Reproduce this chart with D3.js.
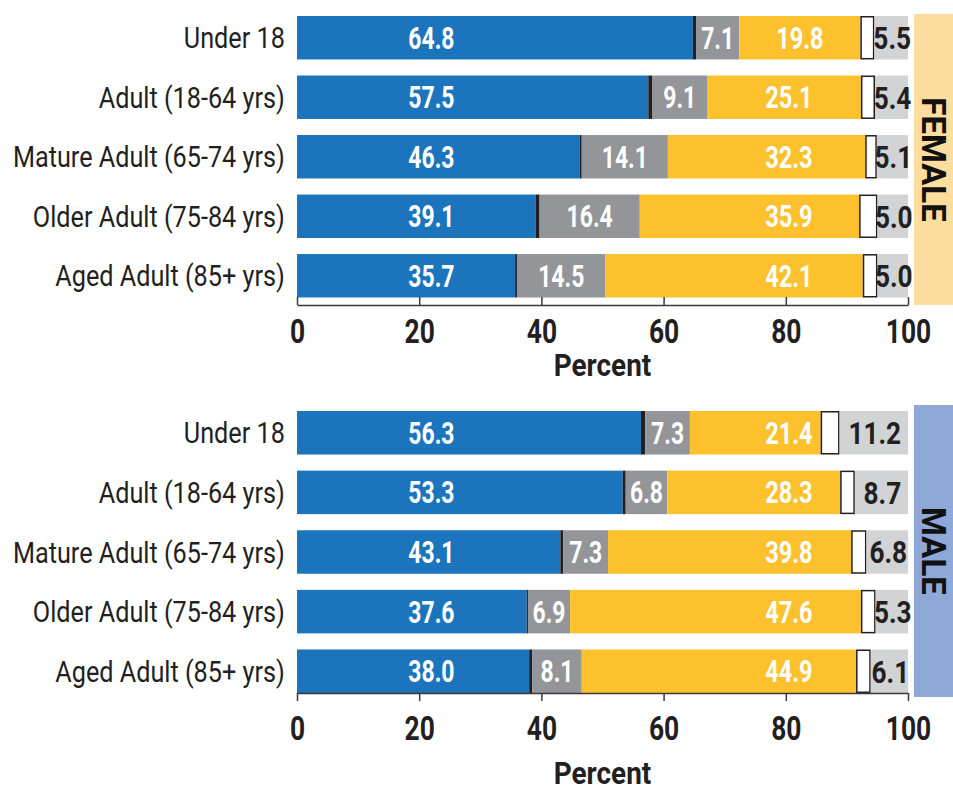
<!DOCTYPE html>
<html>
<head>
<meta charset="utf-8">
<script src="https://cdn.jsdelivr.net/npm/d3@7"></script>
<style>
  html, body { margin: 0; padding: 0; background: #fff; }
  svg { display: block; }
</style>
</head>
<body>
<svg id="chart" width="953" height="791"></svg>
<script>
// ---------- DATA ----------
const categories = ["Under 18", "Adult (18-64 yrs)", "Mature Adult (65-74 yrs)", "Older Adult (75-84 yrs)", "Aged Adult (85+ yrs)"];
const seriesKeys = ["blue", "black", "gray", "yellow", "white", "light"];
const tickValues = [0, 20, 40, 60, 80, 100];
const axisTitle = "Percent";
const panelTitles = ["FEMALE", "MALE"];

const femaleBlue   = [64.8, 57.5, 46.3, 39.1, 35.7];
const femaleBlack  = [0.5, 0.6, 0.3, 0.6, 0.3];
const femaleGray   = [7.1, 9.1, 14.1, 16.4, 14.5];
const femaleYellow = [19.8, 25.1, 32.3, 35.9, 42.1];
const femaleWhite  = [2.3, 2.3, 1.9, 3.0, 2.4];
const femaleLight  = [5.5, 5.4, 5.1, 5.0, 5.0];

const maleBlue   = [56.3, 53.3, 43.1, 37.6, 38.0];
const maleBlack  = [0.7, 0.5, 0.5, 0.2, 0.5];
const maleGray   = [7.3, 6.8, 7.3, 6.9, 8.1];
const maleYellow = [21.4, 28.3, 39.8, 47.6, 44.9];
const maleWhite  = [3.1, 2.4, 2.5, 2.4, 2.4];
const maleLight  = [11.2, 8.7, 6.8, 5.3, 6.1];

// ---------- STYLE ----------
const colors = { blue: "#1C75BC", black: "#231F20", gray: "#939598", yellow: "#FDC12E", white: "#FFFFFF", light: "#D1D3D4" };
const FONT = "Roboto, 'Liberation Sans', sans-serif";

function rows(blue, black, gray, yellow, white, light) {
  return categories.map((c, i) => ({ cat: c, blue: blue[i], black: black[i], gray: gray[i], yellow: yellow[i], white: white[i], light: light[i] }));
}

const panels = [
  { title: panelTitles[0], data: rows(femaleBlue, femaleBlack, femaleGray, femaleYellow, femaleWhite, femaleLight),
    yRange: [16, 297.5], axisY: 305, tickDir: -8, tickBase: 343, titleBase: 376, band: [14, 305], bandColor: "#FDDD9E" },
  { title: panelTitles[1], data: rows(maleBlue, maleBlack, maleGray, maleYellow, maleWhite, maleLight),
    yRange: [411, 693], axisY: 693, tickDir: 8, tickBase: 740, titleBase: 784, band: [405, 697], bandColor: "#8EA8D8" }
];

const svg = d3.select("#chart");
const x = d3.scaleLinear().domain([0, 100]).range([297, 908]);
const stack = d3.stack().keys(seriesKeys);

panels.forEach(p => {
  const g = svg.append("g");
  const y = d3.scaleBand().domain(categories).range(p.yRange).paddingInner(0.27).paddingOuter(0);
  const series = stack(p.data);

  // side band
  g.append("rect").attr("x", 914).attr("y", p.band[0]).attr("width", 39).attr("height", p.band[1] - p.band[0]).attr("fill", p.bandColor);
  g.append("text")
    .attr("transform", `translate(933.5, ${(p.band[0] + p.band[1]) / 2}) rotate(90)`)
    .attr("text-anchor", "middle").attr("dy", "0.36em")
    .attr("font-family", FONT).attr("font-weight", 700).attr("font-size", 33).attr("fill", "#111")
    .text(p.title);

  // bars
  series.forEach(s => {
    const key = s.key;
    g.append("g").selectAll("rect").data(s).join("rect")
      .attr("x", d => key === "white" ? x(d[0]) + 0.75 : x(d[0]))
      .attr("y", d => key === "white" ? y(d.data.cat) + 0.75 : y(d.data.cat))
      .attr("width", d => key === "white" ? Math.max(0, x(d[1]) - x(d[0]) - 1.5) : x(d[1]) - x(d[0]))
      .attr("height", key === "white" ? y.bandwidth() - 1.5 : y.bandwidth())
      .attr("fill", colors[key])
      .attr("stroke", key === "white" ? "#231F20" : "none")
      .attr("stroke-width", key === "white" ? 1.5 : 0);
  });

  // value labels
  const addLabel = (sx, sy, txt, fill, size, sc) => {
    g.append("text")
      .attr("transform", `translate(${sx}, ${sy + size * 0.355}) scale(${sc}, 1)`)
      .attr("text-anchor", "middle")
      .attr("font-family", FONT).attr("font-weight", 700).attr("font-size", size)
      .attr("fill", fill).text(txt);
  };
  const seriesByKey = {};
  series.forEach(s => seriesByKey[s.key] = s);
  p.data.forEach((d, i) => {
    const mid = y(d.cat) + y.bandwidth() / 2;
    const gr = seriesByKey.gray[i], ye = seriesByKey.yellow[i], li = seriesByKey.light[i];
    addLabel(x(22), mid, d.blue.toFixed(1), "#fff", 31, 0.74);
    addLabel((x(gr[0]) + x(gr[1])) / 2, mid, d.gray.toFixed(1), "#fff", 31, 0.74);
    addLabel(Math.max((x(ye[0]) + x(ye[1])) / 2, x(80.5)), mid, d.yellow.toFixed(1), "#fff", 31, 0.76);
    addLabel((x(li[0]) + x(li[1])) / 2 + 1, mid, d.light.toFixed(1), "#231F20", 32, 0.82);
  });

  // category axis
  const yAxis = g.append("g").attr("transform", `translate(${x(0)},0)`)
    .call(d3.axisLeft(y).tickSize(0).tickPadding(14));
  yAxis.select(".domain").remove();
  yAxis.selectAll("text")
    .attr("font-family", FONT).attr("font-size", 29).attr("font-weight", 400).attr("fill", "#231F20")
    .attr("dy", null).attr("y", 10.5)
    .attr("transform", "scale(0.87, 1)");

  // x axis
  const xAxis = g.append("g").attr("transform", `translate(0, ${p.axisY})`)
    .call(d3.axisBottom(x).tickValues(tickValues).tickSizeInner(p.tickDir).tickSizeOuter(0).tickFormat(d3.format("d")));
  xAxis.selectAll("path, line").attr("stroke", "#3a3a3a").attr("stroke-width", 1.5);
  xAxis.selectAll("text")
    .attr("font-family", FONT).attr("font-size", 33).attr("font-weight", 700).attr("fill", "#231F20")
    .attr("dy", null).attr("y", p.tickBase - p.axisY)
    .attr("transform", "scale(0.8, 1)");

  g.append("text")
    .attr("transform", `translate(${(x(0) + x(100)) / 2}, ${p.titleBase}) scale(0.9, 1)`)
    .attr("text-anchor", "middle")
    .attr("font-family", FONT).attr("font-weight", 700).attr("font-size", 31).attr("fill", "#231F20")
    .text(axisTitle);
});
</script>
</body>
</html>
